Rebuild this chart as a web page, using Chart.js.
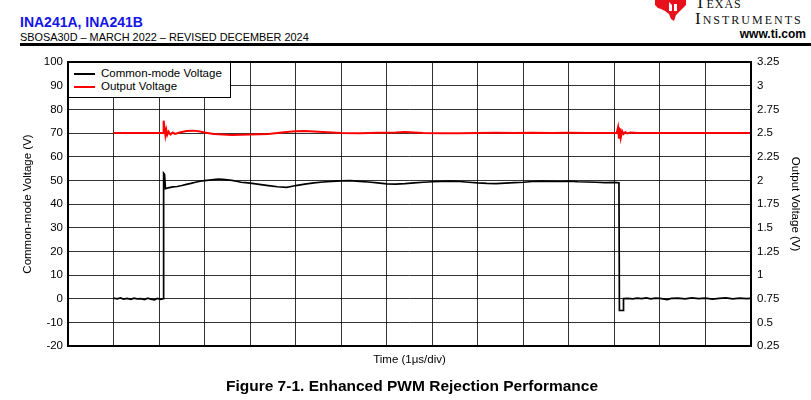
<!DOCTYPE html>
<html>
<head>
<meta charset="utf-8">
<script src="https://cdn.jsdelivr.net/npm/chart.js@4.4.1/dist/chart.umd.min.js"></script>
<style>
  html, body { margin:0; padding:0; background:#fff; }
  body { width:811px; height:400px; position:relative; overflow:hidden; font-family:"Liberation Sans", Arial, sans-serif; }
  .abs { position:absolute; white-space:nowrap; }
  #chart { position:absolute; left:0; top:0; }
  .legend { position:absolute; left:68px; top:62px; width:163px; height:36px; box-sizing:border-box; border:1.5px solid #000; background:#fff; font-size:11.5px; color:#000; }
  .legend .row { position:absolute; left:0; width:160px; height:13px; line-height:13px; }
  .legend .sw { position:absolute; left:5px; width:21px; height:1.6px; top:6px; }
  .legend .tx { position:absolute; left:32px; top:0; white-space:nowrap; }
</style>
</head>
<body>
<div class="abs" style="left:20px;top:14px;font-size:14px;font-weight:bold;color:#1414e6;line-height:16px;">INA241A, INA241B</div>
<div class="abs" style="left:20px;top:31px;font-size:10.9px;color:#000;line-height:12px;">SBOSA30D – MARCH 2022 – REVISED DECEMBER 2024</div>
<div class="abs" style="left:20px;top:43px;width:791px;height:3px;background:#000;"></div>
<div class="abs" style="right:5px;top:27px;font-size:12px;font-weight:bold;color:#000;line-height:14px;">www.ti.com</div>
<svg class="abs" style="left:655px;top:0px;" width="32" height="22" viewBox="0 0 32 22">
  <path d="M0,0 L31,0 L31,5 L28,8 L24,12 L21,15 L19,21 L16,19 L14,14 L10,11 L6,9 L3,8 L0,5 Z" fill="#e8101a"/>
  <path d="M14,2 L14,11 L17,11 L17,5 Z M19,4 L19,11 L22,11 L22,4 Z" fill="#fff"/>
</svg>
<div class="abs" style="left:695px;top:-6px;font-family:'Liberation Serif',serif;font-size:17px;line-height:17px;font-variant:small-caps;letter-spacing:1px;color:#111;">Texas</div>
<div class="abs" style="left:695px;top:10px;font-family:'Liberation Serif',serif;font-size:17px;line-height:17px;font-variant:small-caps;letter-spacing:2px;color:#111;">Instruments</div>

<canvas id="chart" width="811" height="400"></canvas>

<div class="legend">
  <div class="row" style="top:4px;"><div class="sw" style="background:#000;"></div><div class="tx">Common-mode Voltage</div></div>
  <div class="row" style="top:17px;"><div class="sw" style="background:#ff0000;"></div><div class="tx">Output Voltage</div></div>
</div>

<div class="abs" style="left:162px;width:500px;text-align:center;top:377px;font-size:15.5px;font-weight:bold;line-height:18px;color:#000;">Figure 7-1. Enhanced PWM Rejection Performance</div>

<script>
// ---- data (time in divisions, 1 µs/div) ----
const seriesNames = ["Common-mode Voltage", "Output Voltage"];

const cmTime = [1.00,1.08,1.15,1.22,1.30,1.38,1.45,1.52,1.60,1.68,1.75,1.82,1.90,1.96,2.04,2.09,
  2.10,2.12,2.14,2.20,2.30,2.40,2.50,2.60,2.70,2.80,2.90,3.00,3.10,3.20,3.30,3.40,3.50,3.60,3.70,3.80,3.90,
  4.00,4.20,4.40,4.60,4.80,4.90,5.00,5.20,5.40,5.60,5.80,6.00,6.20,6.40,6.60,6.80,7.00,7.20,7.40,7.60,7.80,
  8.00,8.20,8.40,8.60,8.80,9.00,9.20,9.40,9.60,9.80,10.00,10.20,10.40,10.60,10.80,11.00,11.20,11.40,11.60,11.80,12.00,12.10,
  12.11,12.19,12.20,12.30,12.40,12.50,12.60,12.70,12.80,12.90,13.00,13.10,13.16,13.25,13.40,13.55,13.70,13.85,14.00,14.15,14.30,14.45,14.60,14.75,14.90,14.98];
const cmVolt = [0.2,-0.1,0.3,-0.2,0.1,-0.3,0.2,-0.1,0.0,-0.4,0.2,-0.2,-0.5,0.1,-0.3,0.0,
  53.0,52.5,46.5,46.8,47.2,47.4,47.8,48.3,48.7,49.2,49.6,49.9,50.1,50.3,50.5,50.4,50.2,50.0,49.6,49.2,49.0,
  48.8,48.3,47.8,47.3,47.0,47.4,47.8,48.4,48.9,49.3,49.6,49.8,49.9,49.6,49.3,48.9,48.5,48.4,48.6,48.9,49.2,
  49.4,49.6,49.7,49.5,49.2,48.9,48.7,48.6,48.8,49.0,49.2,49.5,49.7,49.6,49.5,49.7,49.4,49.3,49.2,49.0,49.1,49.0,
  -5.0,-5.0,0.0,0.1,-0.1,0.2,0.0,0.3,-0.1,0.2,0.1,-0.2,-0.4,0.1,0.2,-0.1,0.3,0.0,0.2,-0.2,0.1,0.3,-0.1,0.2,0.0,0.1];

const outTime = [1.00,1.20,1.40,1.60,1.80,2.00,2.09,2.10,2.12,2.14,2.16,2.18,2.21,2.25,2.30,2.35,2.45,2.60,2.75,2.90,3.00,
  3.20,3.40,3.60,3.80,4.00,4.20,4.40,4.60,4.80,5.00,5.20,5.40,5.60,5.80,6.00,6.40,6.80,7.20,7.40,7.60,7.80,
  8.20,8.60,9.00,9.40,9.80,10.20,10.60,11.00,11.40,11.80,12.05,12.08,12.10,12.12,12.14,12.17,12.20,12.24,12.28,12.35,12.50,
  13.00,13.50,14.00,14.50,14.98];
const outVolt = [2.500,2.499,2.501,2.500,2.499,2.500,2.500,2.630,2.560,2.475,2.530,2.480,2.515,2.485,2.505,2.490,2.505,2.520,2.525,2.515,2.505,
  2.490,2.483,2.480,2.482,2.485,2.487,2.490,2.500,2.510,2.518,2.520,2.515,2.510,2.505,2.500,2.497,2.502,2.505,2.510,2.505,2.500,
  2.498,2.497,2.500,2.502,2.500,2.503,2.500,2.502,2.500,2.500,2.500,2.560,2.440,2.550,2.450,2.520,2.490,2.510,2.495,2.505,2.500,
  2.500,2.500,2.501,2.500,2.500];

const leftAxis  = { min: -20, max: 100, step: 10, title: "Common-mode Voltage (V)" };
const rightAxis = { min: 0.25, max: 3.25, step: 0.25, title: "Output Voltage (V)" };
const timeAxis  = { min: 0, max: 15, step: 1, title: "Time (1\u03bcs/div)" };

const toXY = (xs, ys) => xs.map((x, i) => ({ x: x, y: ys[i] }));

const frame = {
  id: 'frame',
  afterDraw(chart) {
    const { ctx, chartArea: a } = chart;
    ctx.save();
    ctx.strokeStyle = '#000';
    ctx.lineWidth = 2;
    ctx.strokeRect(a.left, a.top, a.right - a.left, a.bottom - a.top);
    ctx.restore();
  }
};

const tickFont = { family: "'Liberation Sans', Arial, sans-serif", size: 11.5 };

new Chart(document.getElementById('chart'), {
  type: 'line',
  data: {
    datasets: [
      { label: seriesNames[0], data: toXY(cmTime, cmVolt), yAxisID: 'y', borderColor: '#000', borderWidth: 1.7, pointRadius: 0, tension: 0 },
      { label: seriesNames[1], data: toXY(outTime, outVolt), yAxisID: 'y1', borderColor: '#ff0000', borderWidth: 2, pointRadius: 0, tension: 0 }
    ]
  },
  options: {
    responsive: false,
    animation: false,
    devicePixelRatio: 1,
    layout: { padding: { top: 62, left: 0, right: 0, bottom: 30 } },
    plugins: { legend: { display: false }, tooltip: { enabled: false } },
    scales: {
      x: {
        type: 'linear', min: timeAxis.min, max: timeAxis.max,
        ticks: { display: false, stepSize: timeAxis.step },
        grid: { color: 'rgba(0,0,0,0.8)', lineWidth: 1, drawTicks: false },
        border: { display: false },
        title: { display: true, text: timeAxis.title, color: '#000', font: tickFont, padding: { top: 0, bottom: 3 } },
        afterFit: s => { s.height = 24; }
      },
      y: {
        position: 'left', min: leftAxis.min, max: leftAxis.max,
        ticks: { stepSize: leftAxis.step, color: '#000', font: tickFont, padding: 5 },
        grid: { color: 'rgba(0,0,0,0.8)', lineWidth: 1, drawTicks: false },
        border: { display: false },
        title: { display: true, text: leftAxis.title, color: '#000', font: tickFont, padding: { top: 21, bottom: 0 } },
        afterFit: s => { s.width = 68; }
      },
      y1: {
        position: 'right', min: rightAxis.min, max: rightAxis.max,
        ticks: { stepSize: rightAxis.step, color: '#000', font: tickFont, padding: 6,
                 callback: v => String(Math.round(v * 100) / 100) },
        grid: { display: false, drawTicks: false },
        border: { display: false },
        title: { display: true, text: rightAxis.title, color: '#000', font: tickFont, padding: { top: 9, bottom: 0 } },
        afterFit: s => { s.width = 60; }
      }
    }
  },
  plugins: [frame]
});
</script>
</body>
</html>
